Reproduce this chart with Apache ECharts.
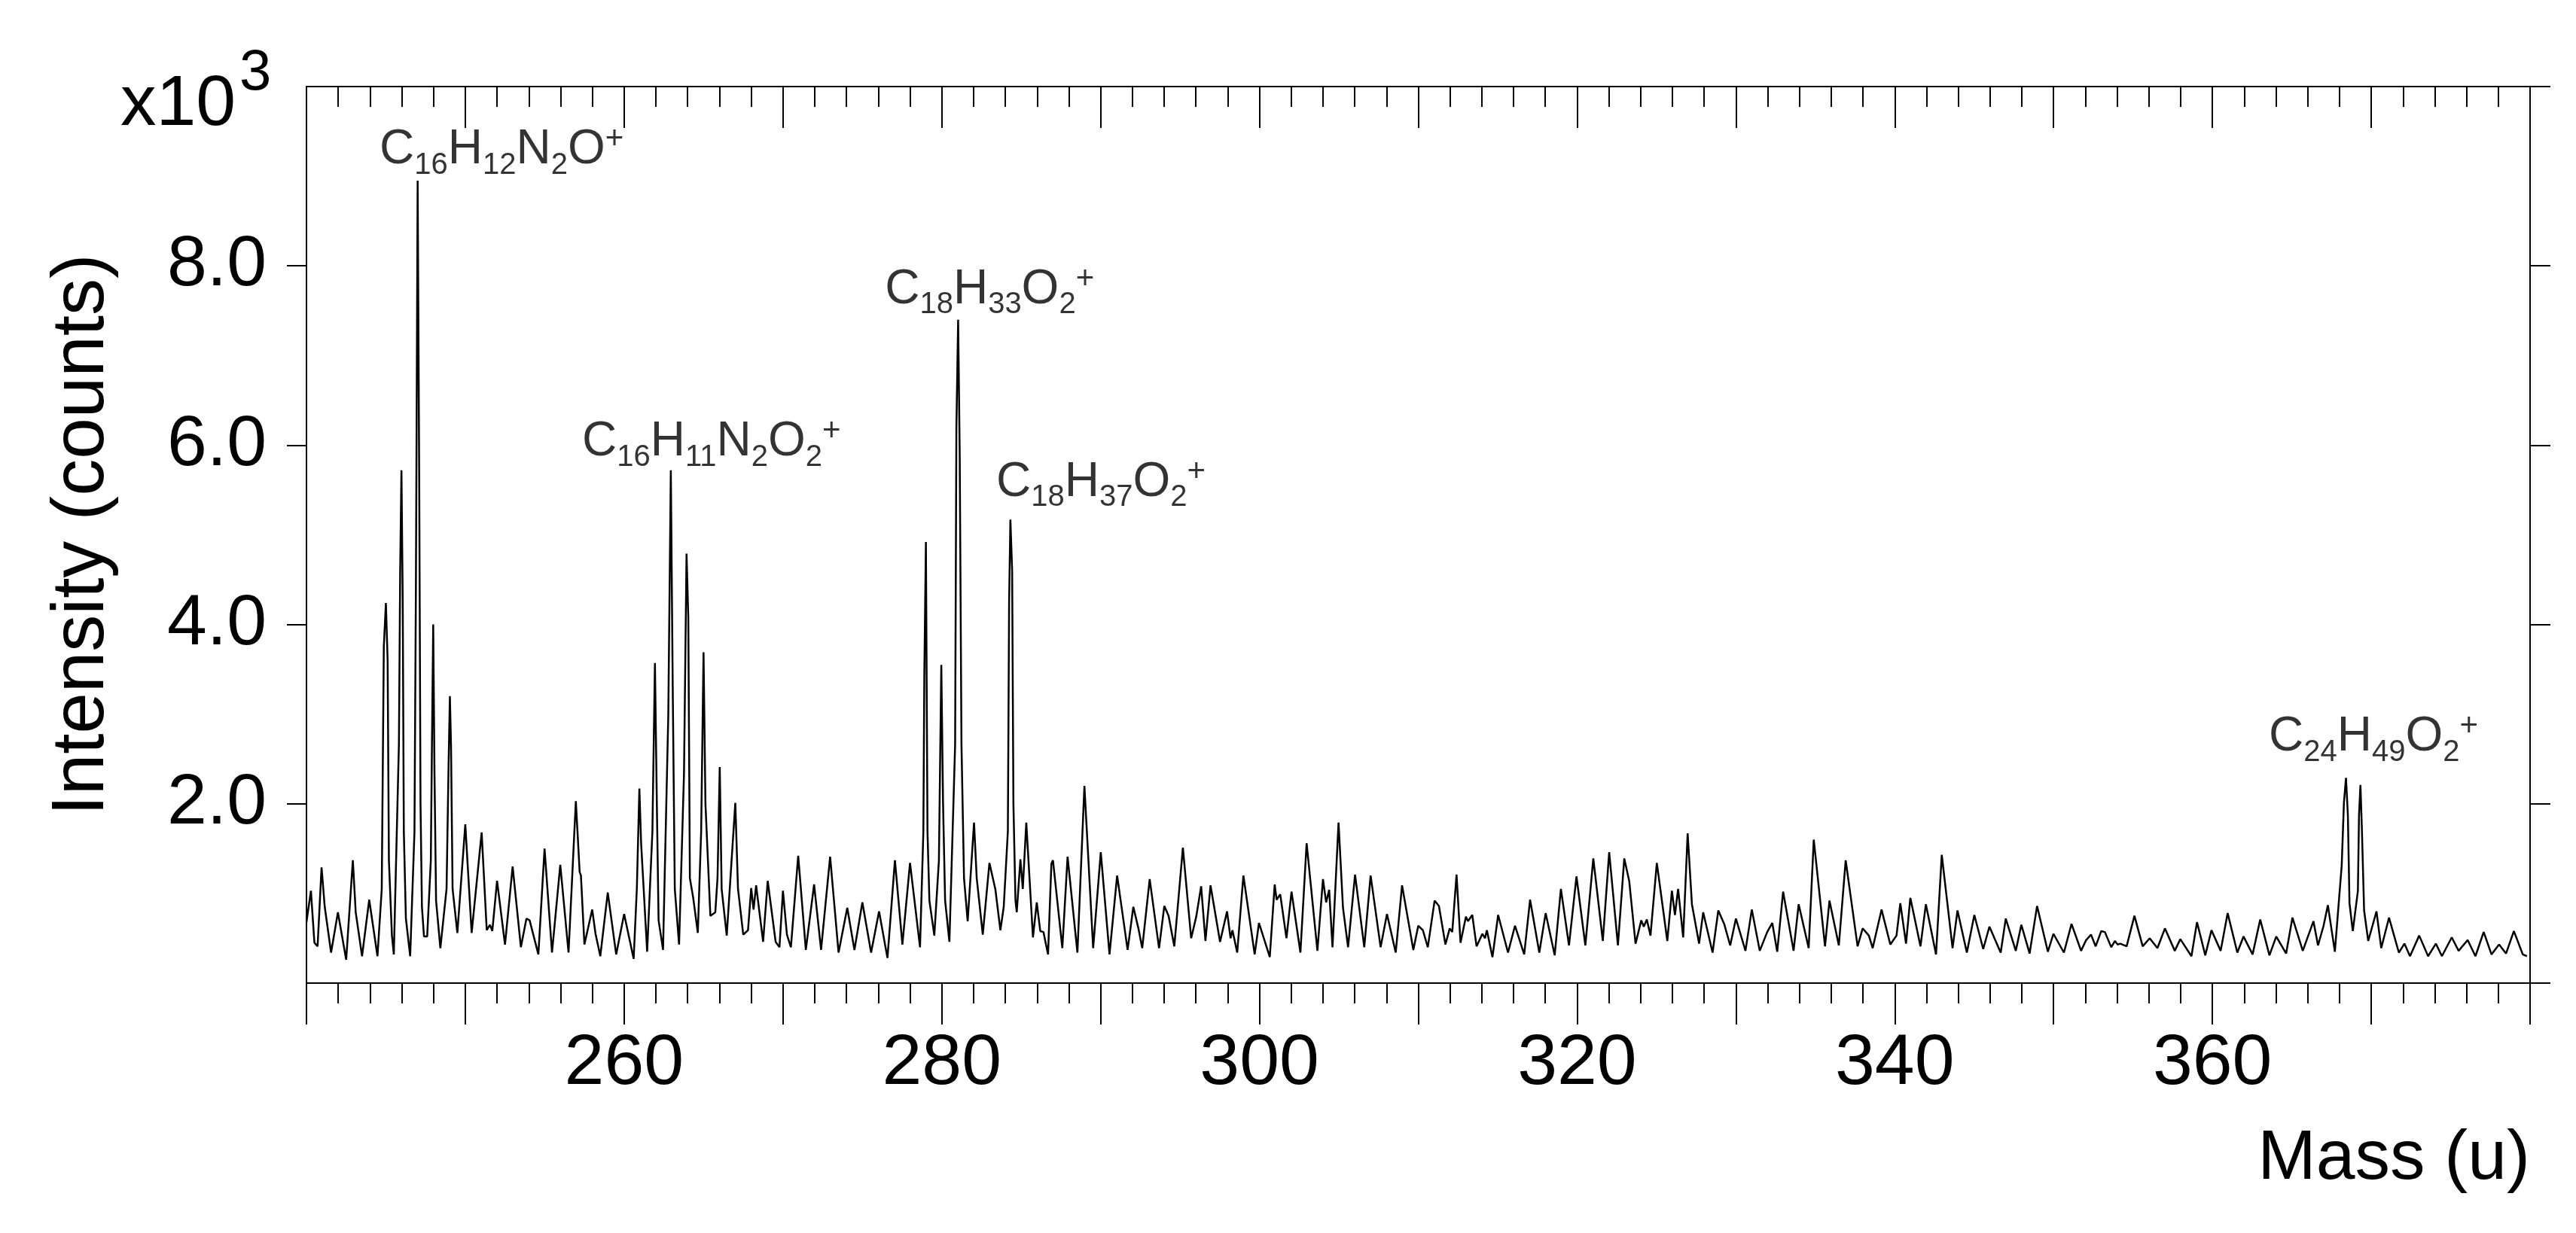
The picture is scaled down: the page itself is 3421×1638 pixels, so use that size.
<!DOCTYPE html>
<html>
<head>
<meta charset="utf-8">
<title>Mass spectrum</title>
<script src="https://cdn.jsdelivr.net/npm/echarts@6/dist/echarts.min.js"></script>
<style>
  html, body { margin: 0; padding: 0; background: #fff; }
  #chart { width: 3421px; height: 1638px; }
</style>
</head>
<body>
<div id="chart"></div>
<script>
// spectrum: [mass (u), intensity (x10^3 counts)]
const seg240 = [
  [240.0, 0.68], [240.28, 1.03], [240.5, 0.45], [240.7, 0.41], [240.95, 1.29], [241.15, 0.85],
  [241.55, 0.34], [241.98, 0.79], [242.5, 0.26], [242.92, 1.37], [243.1, 0.79], [243.5, 0.30],
  [243.95, 0.93], [244.47, 0.30], [244.74, 1.05], [244.87, 3.75], [245.0, 4.24], [245.11, 3.6],
  [245.19, 1.37], [245.38, 0.53], [245.5, 0.32], [245.82, 2.66], [245.9, 4.6], [245.98, 5.72],
  [246.06, 4.27], [246.13, 1.69], [246.26, 0.72], [246.53, 0.30], [246.8, 1.69], [246.89, 4.4],
  [247.0, 8.95], [247.1, 5.56], [247.18, 2.0], [247.27, 0.85], [247.4, 0.52], [247.6, 0.52],
  [247.83, 1.37], [247.9, 2.66], [247.98, 4.0], [248.06, 2.34], [248.16, 0.92], [248.43, 0.39],
  [248.82, 1.05], [248.95, 2.46], [249.03, 3.2], [249.1, 2.66], [249.2, 1.05], [249.5, 0.56],
  [250.0, 1.77], [250.4, 0.56], [251.03, 1.68], [251.35, 0.59], [251.55, 0.65], [251.7, 0.58],
  [252.0, 1.14], [252.5, 0.43], [252.98, 1.30], [253.5, 0.40], [253.85, 0.72], [254.05, 0.70],
  [254.6, 0.32], [254.99, 1.50], [255.46, 0.34], [255.98, 1.32], [256.5, 0.34], [256.96, 2.03],
  [257.2, 1.24], [257.28, 1.20], [257.5, 0.43], [257.99, 0.82], [258.2, 0.55], [258.5, 0.30],
  [258.97, 1.01], [259.5, 0.32], [260.0, 0.77], [260.6, 0.27], [260.8, 1.05], [260.96, 2.17],
  [261.07, 1.56], [261.45, 0.35], [261.78, 1.69], [261.94, 3.57], [262.06, 2.0], [262.17, 0.7],
  [262.45, 0.37]
]
const seg262 = [
  [262.78, 2.98], [262.94, 5.72], [263.06, 3.3], [263.19, 1.05], [263.46, 0.43], [263.77, 2.34],
  [263.93, 4.79], [264.04, 4.08], [264.14, 1.17], [264.35, 0.95], [264.64, 0.56], [264.85, 1.69],
  [265.0, 3.69], [265.12, 2.0], [265.43, 0.75], [265.74, 0.79], [265.88, 1.17], [266.02, 2.41],
  [266.14, 1.05], [266.46, 0.53], [267.0, 2.01], [267.17, 1.05], [267.5, 0.54], [267.8, 0.59],
  [268.0, 1.06], [268.15, 0.82], [268.31, 1.09], [268.75, 0.46], [269.04, 1.14], [269.54, 0.46],
  [269.78, 0.40], [270.0, 1.03], [270.25, 0.54], [270.5, 0.40], [270.96, 1.42], [271.44, 0.37],
  [271.96, 1.10], [272.4, 0.37], [272.97, 1.41], [273.5, 0.34], [274.05, 0.84], [274.5, 0.37],
  [275.0, 0.90], [275.55, 0.34], [276.05, 0.80], [276.58, 0.28], [277.05, 1.37], [277.52, 0.43],
  [278.0, 1.34], [278.63, 0.40], [278.84, 1.69], [278.9, 3.43], [279.0, 4.92], [279.1, 1.69],
  [279.22, 0.92], [279.53, 0.53], [279.82, 1.37], [279.97, 3.55], [280.08, 2.0], [280.21, 0.92],
  [280.48, 0.46], [280.84, 2.66], [280.92, 6.2], [281.03, 7.40], [281.13, 5.88], [281.24, 2.66],
  [281.4, 1.17], [281.63, 0.69], [282.03, 1.79], [282.2, 1.17], [282.58, 0.54], [283.0, 1.34],
  [283.37, 1.05], [283.69, 0.59], [283.9, 0.85], [284.16, 1.69], [284.24, 4.27], [284.32, 5.17],
  [284.43, 4.6], [284.51, 2.0], [284.64, 0.92], [284.72, 0.79], [284.95, 1.38], [285.1, 1.05],
  [285.32, 1.79]
]
const seg285 = [
  [285.74, 0.51], [285.98, 0.90], [286.2, 0.58], [286.4, 0.57], [286.69, 0.32], [286.9, 1.33],
  [287.0, 1.37], [287.59, 0.39], [287.92, 1.41], [288.54, 0.34], [288.98, 2.20], [289.53, 0.39],
  [290.01, 1.46], [290.56, 0.32], [291.04, 1.20], [291.7, 0.37], [292.06, 0.85], [292.38, 0.61],
  [292.62, 0.39], [293.09, 1.16], [293.68, 0.39], [294.01, 0.86], [294.28, 0.75], [294.64, 0.41],
  [295.18, 1.51], [295.7, 0.50], [296.02, 0.74], [296.33, 1.08], [296.6, 0.47], [296.92, 1.09],
  [297.52, 0.46], [297.96, 0.80], [298.18, 0.50], [298.3, 0.59], [298.6, 0.34], [298.99, 1.20],
  [299.7, 0.32], [299.97, 0.67], [300.65, 0.29], [300.96, 1.10], [301.08, 0.93], [301.31, 0.99],
  [301.7, 0.50], [302.02, 1.02], [302.58, 0.34], [302.97, 1.56], [303.65, 0.36], [304.0, 1.16],
  [304.2, 0.90], [304.39, 1.04], [304.6, 0.40], [304.98, 1.79], [305.26, 0.84], [305.58, 0.40],
  [306.02, 1.21], [306.6, 0.40], [307.0, 1.20], [307.63, 0.40], [308.03, 0.77], [308.58, 0.34]
]
const seg308 = [
  [308.98, 1.09], [309.69, 0.37], [310.0, 0.64], [310.29, 0.59], [310.6, 0.40], [311.03, 0.92],
  [311.3, 0.86], [311.71, 0.43], [311.98, 0.61], [312.14, 0.57], [312.41, 1.21], [312.66, 0.45],
  [313.0, 0.74], [313.13, 0.69], [313.4, 0.76], [313.67, 0.41], [314.04, 0.55], [314.2, 0.50],
  [314.32, 0.59], [314.67, 0.29], [315.03, 0.76], [315.65, 0.34], [316.09, 0.64], [316.67, 0.32],
  [317.04, 0.93], [317.62, 0.34], [318.02, 0.78], [318.59, 0.31], [318.98, 1.05], [319.49, 0.42],
  [319.96, 1.19], [320.52, 0.42], [321.02, 1.39], [321.62, 0.47], [322.02, 1.46], [322.57, 0.42],
  [322.97, 1.39], [323.28, 1.14], [323.68, 0.44], [324.04, 0.70], [324.2, 0.63], [324.39, 0.71],
  [324.62, 0.53], [325.02, 1.34], [325.68, 0.47], [325.97, 1.03], [326.16, 0.76], [326.36, 1.05],
  [326.68, 0.51], [326.96, 1.67], [327.23, 0.88], [327.68, 0.44], [327.94, 0.79], [328.53, 0.34],
  [328.89, 0.81], [329.26, 0.66], [329.64, 0.42], [330.0, 0.72], [330.6, 0.36], [331.0, 0.82],
  [331.5, 0.36]
]
const seg331 = [
  [331.97, 0.57], [332.29, 0.67], [332.6, 0.35], [332.97, 1.02], [333.63, 0.36], [333.95, 0.88],
  [334.58, 0.39], [334.9, 1.60], [335.61, 0.41], [335.89, 0.92], [336.48, 0.42], [336.91, 1.37],
  [337.66, 0.41], [337.98, 0.61], [338.37, 0.53], [338.61, 0.39], [339.17, 0.82], [339.72, 0.43],
  [340.11, 0.53], [340.35, 0.89], [340.71, 0.44], [340.98, 0.95], [341.22, 0.75], [341.62, 0.41],
  [341.96, 0.88], [342.6, 0.32], [342.96, 1.43], [343.64, 0.39], [343.95, 0.81], [344.54, 0.34],
  [345.01, 0.76], [345.57, 0.38], [345.96, 0.63], [346.67, 0.34], [346.99, 0.72], [347.62, 0.36],
  [347.97, 0.65], [348.49, 0.33], [348.96, 0.86], [349.64, 0.35], [349.99, 0.55], [350.65, 0.34],
  [351.13, 0.66], [351.73, 0.36], [352.05, 0.48], [352.36, 0.54], [352.65, 0.41], [353.0, 0.58],
  [353.23, 0.57], [353.63, 0.40]
]
const seg354 = [
  [353.86, 0.47], [354.03, 0.43], [354.2, 0.44], [354.6, 0.41], [355.09, 0.75], [355.61, 0.41],
  [356.05, 0.50], [356.54, 0.39], [357.01, 0.61], [357.63, 0.36], [357.98, 0.49], [358.68, 0.30],
  [359.03, 0.68], [359.55, 0.31], [359.94, 0.59], [360.52, 0.36], [360.96, 0.78], [361.57, 0.34],
  [361.96, 0.52], [362.53, 0.32], [363.01, 0.71], [363.59, 0.31], [364.02, 0.52], [364.64, 0.33],
  [365.04, 0.73], [365.69, 0.36], [366.36, 0.69], [366.65, 0.42], [367.0, 0.64], [367.27, 0.87],
  [367.71, 0.35], [368.14, 1.31], [368.28, 2.01], [368.41, 2.29], [368.53, 1.87], [368.63, 0.89],
  [368.84, 0.58], [369.16, 1.03], [369.23, 1.87], [369.32, 2.21], [369.41, 1.73], [369.55, 0.81],
  [369.81, 0.47], [370.33, 0.80], [370.63, 0.39], [371.12, 0.73], [371.74, 0.34], [372.09, 0.44],
  [372.44, 0.30], [373.02, 0.53], [373.58, 0.30], [374.07, 0.44], [374.45, 0.30], [375.07, 0.51],
  [375.5, 0.36], [376.07, 0.48], [376.56, 0.30], [377.08, 0.57], [377.57, 0.32], [378.05, 0.43],
  [378.49, 0.33], [378.98, 0.58], [379.54, 0.32], [379.8, 0.30]
]

// peak annotations: formula, where the text starts (mass) and its height (x10^3 counts)
const labelFormula = ['C16H12N2O+', 'C16H11N2O2+', 'C18H33O2+', 'C18H37O2+', 'C24H49O2+']
const labelMass = [244.6, 257.35, 276.42, 283.43, 363.55]
const labelValue = [9.29, 6.03, 7.73, 5.58, 2.74]

const font = '"Liberation Sans", Arial, sans-serif'
const spectrum = [].concat(seg240, seg262, seg285, seg308, seg331, seg354)

// letters normal, digits as subscripts, charge as superscript
function formulaRich(f) {
  return f.replace(/([A-Z][a-z]?)|(\d+)|(\+)/g, (all, el, num, plus) => {
    if (el) return '{m|' + el + '}'
    if (num) return '{s|' + num + '}'
    return '{p|+}'
  })
}

const chart = echarts.init(document.getElementById('chart'))

const tickLine = { color: '#000', width: 2 }

chart.setOption({
  animation: false,
  backgroundColor: '#fff',
  textStyle: { fontFamily: font, color: '#000' },
  grid: { left: 407, right: 61, top: 115, bottom: 332 },
  xAxis: [{
    type: 'value', min: 240, max: 380, interval: 10, position: 'bottom',
    axisLine: { onZero: false, lineStyle: tickLine },
    axisTick: { length: 55, lineStyle: tickLine },
    minorTick: { show: true, splitNumber: 5, length: 27, lineStyle: tickLine },
    splitLine: { show: false },
    axisLabel: {
      fontSize: 95, color: '#000', margin: 60, fontFamily: font,
      formatter: v => (v % 20 === 0 && v > 240 && v < 380) ? String(v) : ''
    },
    name: 'Mass (u)', nameLocation: 'end', nameGap: 0,
    nameTextStyle: { fontSize: 93, color: '#000', fontFamily: font, align: 'right', verticalAlign: 'top', padding: [188, 0, 0, 0] }
  }, {
    type: 'value', min: 240, max: 380, interval: 10, position: 'top',
    axisLine: { onZero: false, lineStyle: tickLine },
    axisTick: { inside: true, length: 55, lineStyle: tickLine },
    minorTick: { show: true, splitNumber: 5, length: 27, lineStyle: tickLine },
    splitLine: { show: false },
    axisLabel: { show: false }
  }],
  yAxis: [{
    type: 'value', min: 0, max: 10, interval: 2, position: 'left',
    axisLine: { show: true, onZero: false, lineStyle: tickLine },
    axisTick: { show: true, length: 26, lineStyle: tickLine },
    splitLine: { show: false },
    axisLabel: {
      fontSize: 95, color: '#000', margin: 53, fontFamily: font,
      showMinLabel: false, showMaxLabel: false,
      formatter: v => (v > 0 && v < 10) ? v.toFixed(1) : ''
    },
    name: 'Intensity (counts)', nameLocation: 'middle', nameGap: 248,
    nameTextStyle: { fontSize: 98, color: '#000', fontFamily: font }
  }, {
    type: 'value', min: 0, max: 10, interval: 2, position: 'right',
    axisLine: { show: true, onZero: false, lineStyle: tickLine },
    axisTick: { show: true, length: 27, lineStyle: tickLine },
    splitLine: { show: false },
    axisLabel: { show: false }
  }],
  graphic: [
    { type: 'text', x: 160, y: 140, style: { text: 'x10', fontSize: 95, fontFamily: font, fill: '#000', verticalAlign: 'middle' } },
    { type: 'text', x: 318, y: 98, style: { text: '3', fontSize: 76, fontFamily: font, fill: '#000', verticalAlign: 'middle' } }
  ],
  series: [{
    type: 'line',
    data: spectrum,
    showSymbol: false,
    symbol: 'none',
    lineStyle: { color: '#000', width: 2.5 },
    silent: true
  }, {
    type: 'scatter',
    symbolSize: 0,
    silent: true,
    data: labelFormula.map((f, i) => [labelMass[i], labelValue[i], f]),
    label: {
      show: true, position: 'right', distance: 0, color: '#000',
      formatter: p => formulaRich(p.data[2]),
      rich: {
        m: { fontSize: 64, lineHeight: 90, fontFamily: font, color: '#000' },
        s: { fontSize: 40, lineHeight: 90, fontFamily: font, color: '#000', padding: [40, 0, 0, 0] },
        p: { fontSize: 42, lineHeight: 90, fontFamily: font, color: '#000', padding: [0, 0, 28, 0] }
      }
    }
  }]
})
</script>
</body>
</html>
